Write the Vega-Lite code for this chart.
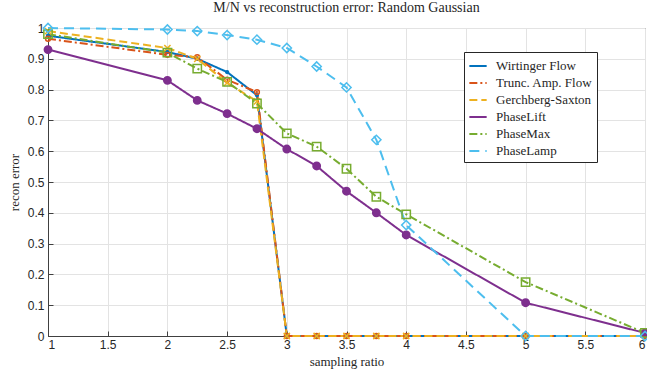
{
  "$schema": "https://vega.github.io/schema/vega-lite/v6.json",
  "width": 597,
  "height": 308,
  "autosize": {"type": "none"},
  "padding": {"left": 48, "top": 28, "right": 2, "bottom": 39},
  "background": "white",
  "title": {"text": "M/N vs reconstruction error: Random Gaussian", "font": "Liberation Serif", "fontSize": 14, "fontWeight": "normal", "color": "#262626", "offset": 5},
  "config": {
    "view": {"stroke": "#404040", "strokeWidth": 1},
    "axis": {"labelFont": "Liberation Sans", "labelFontSize": 12, "labelColor": "#262626", "titleFont": "Liberation Serif", "titleFontSize": 13, "titleFontWeight": "normal", "titleColor": "#262626", "gridColor": "#e3e3e3", "domainColor": "#404040", "tickColor": "#404040", "tickSize": -5, "labelPadding": 9}
  },
  "resolve": {"legend": {"color": "independent", "strokeDash": "independent", "stroke": "independent", "shape": "independent", "fill": "independent", "size": "independent"}},
  "data": {"values": [
    {"r": 1, "e": 0.975, "s": "Wirtinger Flow"},
    {"r": 2, "e": 0.922, "s": "Wirtinger Flow"},
    {"r": 2.25, "e": 0.9, "s": "Wirtinger Flow"},
    {"r": 2.5, "e": 0.857, "s": "Wirtinger Flow"},
    {"r": 2.75, "e": 0.782, "s": "Wirtinger Flow"},
    {"r": 3, "e": 0, "s": "Wirtinger Flow"},
    {"r": 3.25, "e": 0, "s": "Wirtinger Flow"},
    {"r": 3.5, "e": 0, "s": "Wirtinger Flow"},
    {"r": 3.75, "e": 0, "s": "Wirtinger Flow"},
    {"r": 4, "e": 0, "s": "Wirtinger Flow"},
    {"r": 5, "e": 0, "s": "Wirtinger Flow"},
    {"r": 6, "e": 0, "s": "Wirtinger Flow"},
    {"r": 1, "e": 0.965, "s": "Trunc. Amp. Flow"},
    {"r": 2, "e": 0.913, "s": "Trunc. Amp. Flow"},
    {"r": 2.25, "e": 0.905, "s": "Trunc. Amp. Flow"},
    {"r": 2.5, "e": 0.832, "s": "Trunc. Amp. Flow"},
    {"r": 2.75, "e": 0.792, "s": "Trunc. Amp. Flow"},
    {"r": 3, "e": 0, "s": "Trunc. Amp. Flow"},
    {"r": 3.25, "e": 0, "s": "Trunc. Amp. Flow"},
    {"r": 3.5, "e": 0, "s": "Trunc. Amp. Flow"},
    {"r": 3.75, "e": 0, "s": "Trunc. Amp. Flow"},
    {"r": 4, "e": 0, "s": "Trunc. Amp. Flow"},
    {"r": 5, "e": 0, "s": "Trunc. Amp. Flow"},
    {"r": 6, "e": 0, "s": "Trunc. Amp. Flow"},
    {"r": 1, "e": 0.99, "s": "Gerchberg-Saxton"},
    {"r": 2, "e": 0.935, "s": "Gerchberg-Saxton"},
    {"r": 2.25, "e": 0.9, "s": "Gerchberg-Saxton"},
    {"r": 2.5, "e": 0.822, "s": "Gerchberg-Saxton"},
    {"r": 2.75, "e": 0.762, "s": "Gerchberg-Saxton"},
    {"r": 3, "e": 0, "s": "Gerchberg-Saxton"},
    {"r": 3.25, "e": 0, "s": "Gerchberg-Saxton"},
    {"r": 3.5, "e": 0, "s": "Gerchberg-Saxton"},
    {"r": 3.75, "e": 0, "s": "Gerchberg-Saxton"},
    {"r": 4, "e": 0, "s": "Gerchberg-Saxton"},
    {"r": 5, "e": 0, "s": "Gerchberg-Saxton"},
    {"r": 6, "e": 0, "s": "Gerchberg-Saxton"},
    {"r": 1, "e": 0.93, "s": "PhaseLift"},
    {"r": 2, "e": 0.83, "s": "PhaseLift"},
    {"r": 2.25, "e": 0.765, "s": "PhaseLift"},
    {"r": 2.5, "e": 0.722, "s": "PhaseLift"},
    {"r": 2.75, "e": 0.673, "s": "PhaseLift"},
    {"r": 3, "e": 0.607, "s": "PhaseLift"},
    {"r": 3.25, "e": 0.552, "s": "PhaseLift"},
    {"r": 3.5, "e": 0.47, "s": "PhaseLift"},
    {"r": 3.75, "e": 0.4, "s": "PhaseLift"},
    {"r": 4, "e": 0.328, "s": "PhaseLift"},
    {"r": 5, "e": 0.108, "s": "PhaseLift"},
    {"r": 6, "e": 0.01, "s": "PhaseLift"},
    {"r": 1, "e": 0.98, "s": "PhaseMax"},
    {"r": 2, "e": 0.92, "s": "PhaseMax"},
    {"r": 2.25, "e": 0.868, "s": "PhaseMax"},
    {"r": 2.5, "e": 0.825, "s": "PhaseMax"},
    {"r": 2.75, "e": 0.755, "s": "PhaseMax"},
    {"r": 3, "e": 0.658, "s": "PhaseMax"},
    {"r": 3.25, "e": 0.615, "s": "PhaseMax"},
    {"r": 3.5, "e": 0.543, "s": "PhaseMax"},
    {"r": 3.75, "e": 0.452, "s": "PhaseMax"},
    {"r": 4, "e": 0.395, "s": "PhaseMax"},
    {"r": 5, "e": 0.175, "s": "PhaseMax"},
    {"r": 6, "e": 0.01, "s": "PhaseMax"},
    {"r": 1, "e": 1.0, "s": "PhaseLamp"},
    {"r": 2, "e": 0.995, "s": "PhaseLamp"},
    {"r": 2.25, "e": 0.99, "s": "PhaseLamp"},
    {"r": 2.5, "e": 0.977, "s": "PhaseLamp"},
    {"r": 2.75, "e": 0.962, "s": "PhaseLamp"},
    {"r": 3, "e": 0.935, "s": "PhaseLamp"},
    {"r": 3.25, "e": 0.875, "s": "PhaseLamp"},
    {"r": 3.5, "e": 0.807, "s": "PhaseLamp"},
    {"r": 3.75, "e": 0.637, "s": "PhaseLamp"},
    {"r": 4, "e": 0.36, "s": "PhaseLamp"},
    {"r": 5, "e": 0, "s": "PhaseLamp"},
    {"r": 6, "e": 0, "s": "PhaseLamp"}
  ]},
  "encoding": {
    "x": {"field": "r", "type": "quantitative", "title": "sampling ratio", "scale": {"domain": [1, 6], "nice": false, "zero": false}, "axis": {"values": [1, 1.5, 2, 2.5, 3, 3.5, 4, 4.5, 5, 5.5, 6], "format": "~g", "titlePadding": 5, "labelPadding": 8}},
    "y": {"field": "e", "type": "quantitative", "title": "recon error", "scale": {"domain": [0, 1], "nice": false}, "axis": {"values": [0, 0.1, 0.2, 0.3, 0.4, 0.5, 0.6, 0.7, 0.8, 0.9, 1], "format": "~g", "titlePadding": 6}}
  },
  "layer": [
    {
      "mark": {"type": "line", "strokeWidth": 2},
      "encoding": {
        "color": {"field": "s", "type": "nominal", "scale": {"domain": ["Wirtinger Flow", "Trunc. Amp. Flow", "Gerchberg-Saxton", "PhaseLift", "PhaseMax", "PhaseLamp"], "range": ["#0072BD", "#D95319", "#EDB120", "#7E2F8E", "#77AC30", "#4DBEEE"]}, "legend": {"title": null, "orient": "none", "legendX": 416, "legendY": 24, "strokeColor": "#262626", "fillColor": "white", "padding": 4, "labelFont": "Liberation Serif", "labelFontSize": 13, "labelColor": "#262626", "symbolType": "stroke", "symbolStrokeWidth": 2, "symbolSize": 300, "rowPadding": 0, "labelOffset": 8}},
        "strokeDash": {"field": "s", "type": "nominal", "legend": null, "scale": {"domain": ["Wirtinger Flow", "Trunc. Amp. Flow", "Gerchberg-Saxton", "PhaseLift", "PhaseMax", "PhaseLamp"], "range": [[1, 0], [8, 3, 2, 3], [8, 4], [1, 0], [8, 3, 2, 3], [10, 6]]}}
      }
    },
    {
      "mark": {"type": "point", "strokeWidth": 1.5, "opacity": 1},
      "encoding": {
        "stroke": {"field": "s", "type": "nominal", "legend": null, "scale": {"domain": ["Wirtinger Flow", "Trunc. Amp. Flow", "Gerchberg-Saxton", "PhaseLift", "PhaseMax", "PhaseLamp"], "range": ["#0072BD", "#D95319", "#EDB120", "#7E2F8E", "#77AC30", "#4DBEEE"]}},
        "shape": {"field": "s", "type": "nominal", "legend": null, "scale": {"domain": ["Wirtinger Flow", "Trunc. Amp. Flow", "Gerchberg-Saxton", "PhaseLift", "PhaseMax", "PhaseLamp"], "range": ["circle", "circle", "M-1,-1L1,1M1,-1L-1,1", "circle", "square", "diamond"]}},
        "fill": {"field": "s", "type": "nominal", "legend": null, "scale": {"domain": ["Wirtinger Flow", "Trunc. Amp. Flow", "Gerchberg-Saxton", "PhaseLift", "PhaseMax", "PhaseLamp"], "range": ["#0072BD", "transparent", "transparent", "#7E2F8E", "transparent", "transparent"]}},
        "size": {"field": "s", "type": "nominal", "legend": null, "scale": {"domain": ["Wirtinger Flow", "Trunc. Amp. Flow", "Gerchberg-Saxton", "PhaseLift", "PhaseMax", "PhaseLamp"], "range": [8, 85, 30, 45, 40, 70]}}
      }
    }
  ]
}
